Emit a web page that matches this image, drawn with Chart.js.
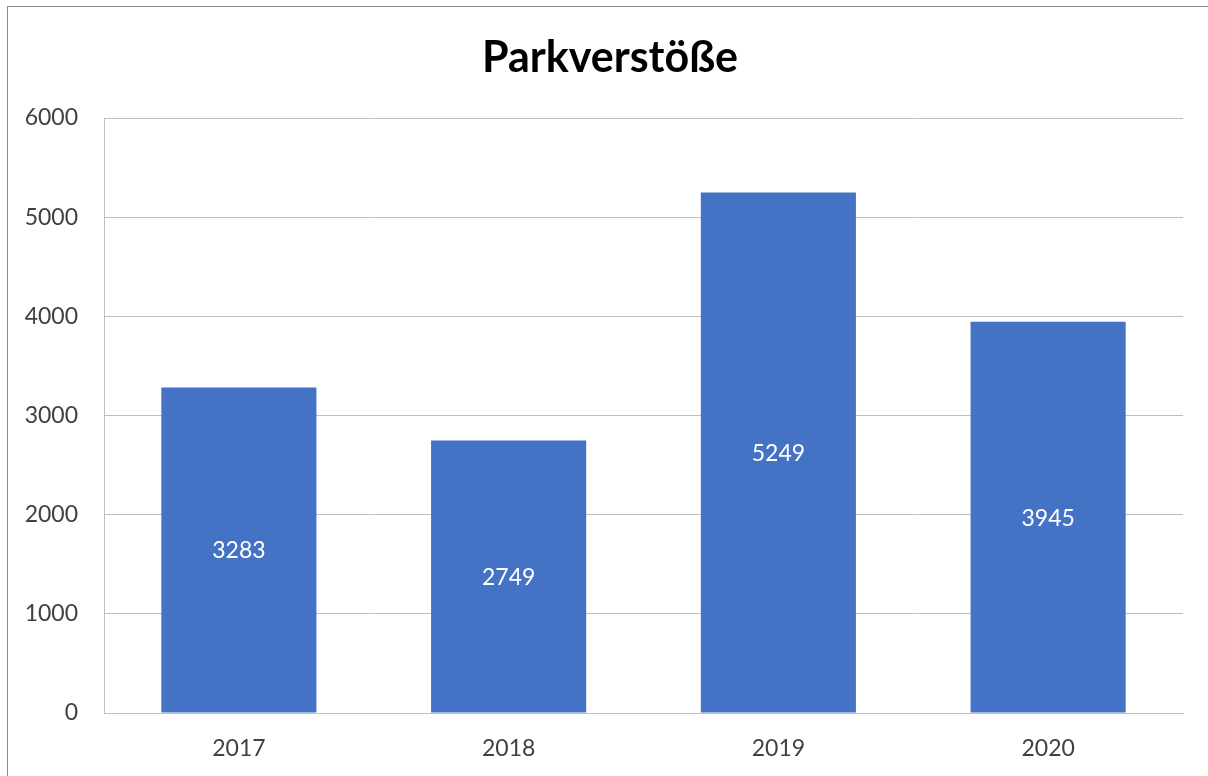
<!DOCTYPE html>
<html>
<head>
<meta charset="utf-8">
<script src="https://cdn.jsdelivr.net/npm/chart.js@4"></script>
<style>
  html, body { margin: 0; padding: 0; background: #fff; }
  #wrap { width: 1208px; height: 776px; position: relative; }
</style>
</head>
<body>
<div id="wrap"><canvas id="chart" width="1208" height="776"></canvas></div>
<script>
const years = ["2017", "2018", "2019", "2020"];
const violations = [3283, 2749, 5249, 3945];
const yTicks = [0, 1000, 2000, 3000, 4000, 5000, 6000];

const FONT = "Lato, 'Open Sans', sans-serif";

// outer frame + title, drawn by hand like the spreadsheet chart
const frame = {
  id: "frame",
  beforeDraw(chart) {
    const ctx = chart.ctx;
    ctx.save();
    ctx.fillStyle = "#fff";
    ctx.fillRect(0, 0, chart.width, chart.height);
    ctx.strokeStyle = "#8c8c8c";
    ctx.lineWidth = 1;
    ctx.strokeRect(7.5, 6.5, 1400, 1000);
    ctx.restore();
  },
  afterDraw(chart) {
    const ctx = chart.ctx;
    ctx.save();
    ctx.fillStyle = "#000";
    ctx.font = "bold 43px " + FONT;
    ctx.textAlign = "center";
    ctx.textBaseline = "middle";
    ctx.fillText("Parkverstöße", 610, 58);
    ctx.restore();
  },
};

const barLabels = {
  id: "barLabels",
  afterDatasetsDraw(chart) {
    const ctx = chart.ctx;
    const meta = chart.getDatasetMeta(0);
    ctx.save();
    ctx.fillStyle = "#fff";
    ctx.font = "23px " + FONT;
    ctx.textAlign = "center";
    ctx.textBaseline = "middle";
    meta.data.forEach((bar, i) => {
      ctx.fillText(String(violations[i]), bar.x, (bar.y + bar.base) / 2 + 1);
    });
    ctx.restore();
  },
};

new Chart(document.getElementById("chart"), {
  type: "bar",
  data: {
    labels: years,
    datasets: [{
      data: violations,
      backgroundColor: "#4472c4",
      categoryPercentage: 1,
      barPercentage: 0.575,
    }],
  },
  options: {
    responsive: false,
    animation: false,
    layout: { padding: { top: 118, right: 25, left: 0, bottom: 0 } },
    plugins: { legend: { display: false }, tooltip: { enabled: false } },
    scales: {
      x: {
        grid: { display: false },
        border: { color: "#bfbfbf", width: 1 },
        ticks: { color: "#404040", font: { family: FONT, size: 23 }, padding: 14 },
        afterFit(scale) { scale.height = 63; },
      },
      y: {
        min: 0,
        max: 6000,
        afterBuildTicks(scale) { scale.ticks = yTicks.map((v) => ({ value: v })); },
        grid: { color: "#bfbfbf", drawTicks: false },
        border: { color: "#bfbfbf", width: 1 },
        ticks: {
          color: "#404040",
          font: { family: FONT, size: 23 },
          padding: 26,
          callback: (v) => String(v),
        },
        afterFit(scale) { scale.width = 104; },
      },
    },
  },
  plugins: [frame, barLabels],
});
</script>
</body>
</html>
